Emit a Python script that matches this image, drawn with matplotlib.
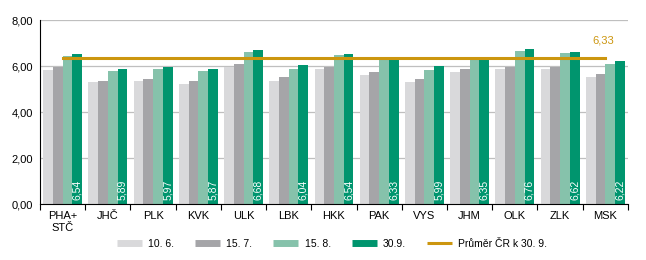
import numpy as np
import matplotlib
matplotlib.use("Agg")
import matplotlib.pyplot as plt
from matplotlib.lines import Line2D

plt.rcParams['font.family'] = ['Liberation Sans', 'DejaVu Sans']

regions = ['PHA+\nSTČ', 'JHČ', 'PLK', 'KVK', 'ULK', 'LBK', 'HKK', 'PAK',
           'VYS', 'JHM', 'OLK', 'ZLK', 'MSK']
jun10 = [5.81, 5.29, 5.33, 5.24, 5.94, 5.37, 5.85, 5.63, 5.32, 5.72, 5.88, 5.88, 5.53]
jul15 = [5.94, 5.37, 5.45, 5.37, 6.07, 5.53, 5.98, 5.75, 5.45, 5.88, 5.98, 5.98, 5.66]
aug15 = [6.45, 5.77, 5.85, 5.77, 6.62, 5.88, 6.49, 6.30, 5.84, 6.28, 6.67, 6.58, 6.10]
sep30 = [6.54, 5.89, 5.97, 5.87, 6.68, 6.04, 6.54, 6.33, 5.99, 6.35, 6.76, 6.62, 6.22]
avg_cr = 6.33

series = [jun10, jul15, aug15, sep30]
names = ['10. 6.', '15. 7.', '15. 8.', '30.9.']
colors = ['#D9D9DB', '#A5A5A8', '#86C2AB', '#00956E']
line_color = '#CC960F'

fig = plt.figure(figsize=(6.46, 2.60), dpi=100)
ax = fig.add_axes([0.062, 0.215, 0.910, 0.708])

x = np.arange(len(regions))
w = 0.215
for k, (vals, c) in enumerate(zip(series, colors)):
    ax.bar(x + (k - 1.5) * w, vals, width=w, color=c, zorder=2)

# value labels inside last series
for xi, v in zip(x, sep30):
    ax.text(xi + 1.5 * w, 0.17, f"{v:.2f}".replace('.', ','), rotation=90,
            ha='center', va='bottom', color='white', fontsize=7.5, zorder=4)

ax.plot(x, [avg_cr] * len(x), color=line_color, lw=2.2, zorder=3)
ax.text(11.95, 7.12, f"{avg_cr:.2f}".replace('.', ','), color=line_color,
        fontsize=8, ha='center', va='center')

ax.set_xlim(-0.5, len(regions) - 0.5)
ax.set_ylim(0, 8)
ax.set_yticks([0, 2, 4, 6, 8])
ax.set_yticklabels([f"{t:.2f}".replace('.', ',') for t in [0, 2, 4, 6, 8]], fontsize=8)
ax.yaxis.grid(True, color='#BFBFBF', lw=0.9, zorder=0)
ax.set_axisbelow(True)
ax.tick_params(axis='y', length=0, pad=5)

ax.set_xticks(np.arange(-0.5, len(regions)), minor=False)
ax.set_xticklabels([])
ax.set_xticks(x, minor=True)
ax.set_xticklabels(regions, minor=True, fontsize=8)
ax.tick_params(axis='x', which='major', length=4, direction='out', color='black')
ax.tick_params(axis='x', which='minor', length=0, pad=5)

for s in ['top', 'right']:
    ax.spines[s].set_visible(False)
ax.spines['left'].set_color('black')
ax.spines['bottom'].set_color('black')

handles = [Line2D([0], [0], color=c, lw=5, solid_capstyle='butt') for c in colors]
handles.append(Line2D([0], [0], color=line_color, lw=2.2, solid_capstyle='butt'))
fig.legend(handles, names + ['Průměr ČR k 30. 9.'], loc='center', ncol=5,
           bbox_to_anchor=(0.514, 0.062), frameon=False, fontsize=7.5,
           handlelength=2.4, columnspacing=2.0, handletextpad=0.6)

fig.savefig('out.png', dpi=100)
